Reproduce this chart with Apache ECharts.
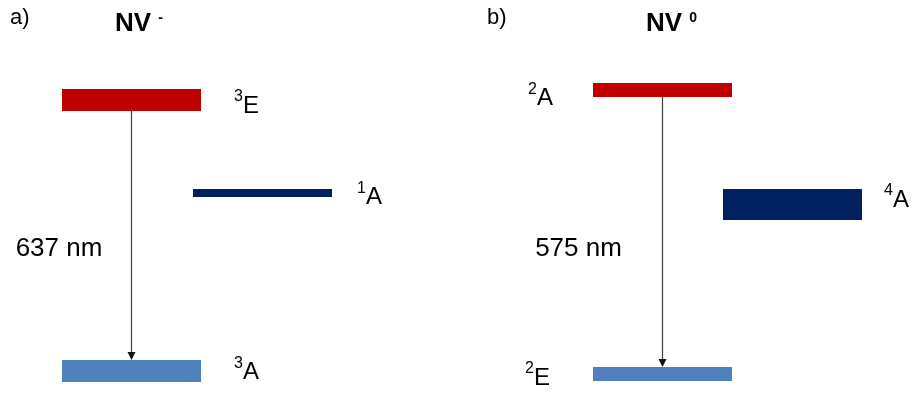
<!DOCTYPE html>
<html><head><meta charset="utf-8">
<script src="https://cdn.jsdelivr.net/npm/echarts@6/dist/echarts.min.js"></script>
<style>html,body{margin:0;padding:0;background:#fff}#c{width:914px;height:393px}</style>
</head><body><div id="c"></div>
<script>
// ---------- data (arbitrary energy units) ----------
const panelLetters = ['a)', 'b)'];
const centerNames = ['NV', 'NV'];
const chargeStates = ['-', '0'];

const multiplicityA = ['3', '1', '3'];
const symmetryA = ['E', 'A', 'A'];
const columnA = [0, 1, 0];
const energyA = [2.78, 1.85, 0.07];

const multiplicityB = ['2', '4', '2'];
const symmetryB = ['A', 'A', 'E'];
const columnB = [0, 1, 0];
const energyB = [2.88, 1.735, 0.04];

const transitionFrom = [0, 0];   // level index per panel
const transitionTo = [2, 2];
const wavelengthsNm = [637, 575];

// ---------- styles ----------
const FONT = 'Liberation Sans, Arial, sans-serif';
const BAR_W = 139;
const stylesA = {
  colors: ['#C00000', '#002060', '#4F81BD'],
  thick: [22, 8, 22],
  labelSide: ['right', 'right', 'right'],
  labelGap: [33, 25, 33],
  labelDy: [6, 4.5, 1.5]
};
const stylesB = {
  colors: ['#C00000', '#002060', '#4F81BD'],
  thick: [14, 31, 14],
  labelSide: ['left', 'right', 'left'],
  labelGap: [40, 22, 43],
  labelDy: [8.5, -4.5, 4]
};
const transStyles = [
  { dx: -72.5, dy: 13.5 },
  { dx: -84, dy: 17 }
];

const richLevel = {
  s: { fontSize: 16, fontFamily: FONT, fill: '#000', verticalAlign: 'top', lineHeight: 16 },
  b: { fontSize: 24, fontFamily: FONT, fill: '#000', lineHeight: 34 }
};

function levelRenderer(mult, sym, st) {
  return function (params, api) {
    const i = api.value(2);
    const p = api.coord([api.value(0), api.value(1)]);
    const th = st.thick[i];
    const right = st.labelSide[i] === 'right';
    const lx = right ? p[0] + BAR_W + st.labelGap[i] : p[0] - st.labelGap[i];
    return {
      type: 'group',
      children: [
        { type: 'rect', shape: { x: p[0], y: p[1] - th / 2, width: BAR_W, height: th },
          style: { fill: st.colors[i] } },
        { type: 'text', x: lx, y: p[1] + st.labelDy[i],
          style: { text: '{s|' + mult[i] + '}{b|' + sym[i] + '}', rich: richLevel,
                   align: right ? 'left' : 'right', verticalAlign: 'middle' } }
      ]
    };
  };
}

function transitionRenderer(params, api) {
  const k = api.value(3);
  const st = k === 0 ? stylesA : stylesB;
  const from = transitionFrom[k], to = transitionTo[k];
  const p1 = api.coord([api.value(0), api.value(1)]);
  const p2 = api.coord([api.value(0), api.value(2)]);
  const x = p1[0] + BAR_W / 2;
  const yTop = p1[1] + st.thick[from] / 2;
  const yBot = p2[1] - st.thick[to] / 2;
  const ah = 8, aw = 4;
  return {
    type: 'group',
    children: [
      { type: 'line', shape: { x1: x, y1: yTop, x2: x, y2: yBot - ah + 1 },
        style: { stroke: '#404040', lineWidth: 1.2 } },
      { type: 'polygon', shape: { points: [[x - aw, yBot - ah], [x + aw, yBot - ah], [x, yBot]] },
        style: { fill: '#111' } },
      { type: 'text', x: x + transStyles[k].dx, y: (p1[1] + p2[1]) / 2 + transStyles[k].dy,
        style: { text: wavelengthsNm[k] + ' nm', fontSize: 26, fontFamily: FONT, fill: '#000',
                 align: 'center', verticalAlign: 'middle' } }
    ]
  };
}

const titleRich = {
  b: { fontSize: 26, fontWeight: 'bold', fontFamily: FONT, fill: '#000', lineHeight: 26 },
  s: { fontSize: 14, fontWeight: 'bold', fontFamily: FONT, fill: '#000', verticalAlign: 'top', lineHeight: 14 }
};

const chart = echarts.init(document.getElementById('c'), null, { renderer: 'canvas' });
const option = {
  animation: false,
  backgroundColor: '#fff',
  grid: [
    { left: 62, top: 78, width: 262, height: 300 },
    { left: 593, top: 78, width: 260, height: 300 }
  ],
  xAxis: [
    { gridIndex: 0, type: 'value', min: 0, max: 2, show: false },
    { gridIndex: 1, type: 'value', min: 0, max: 2, show: false }
  ],
  yAxis: [
    { gridIndex: 0, type: 'value', min: 0, max: 3, show: false },
    { gridIndex: 1, type: 'value', min: 0, max: 3, show: false }
  ],
  graphic: [
    { type: 'text', x: 10, y: 18, style: { text: panelLetters[0], fontSize: 22, fontFamily: FONT, fill: '#000', verticalAlign: 'middle' } },
    { type: 'text', x: 487, y: 18, style: { text: panelLetters[1], fontSize: 22, fontFamily: FONT, fill: '#000', verticalAlign: 'middle' } },
    { type: 'text', x: 115, y: 24, style: { text: '{b|' + centerNames[0] + ' }{s|' + chargeStates[0] + '}', verticalAlign: 'middle', rich: titleRich } },
    { type: 'text', x: 646, y: 24, style: { text: '{b|' + centerNames[1] + ' }{s|' + chargeStates[1] + '}', verticalAlign: 'middle', rich: titleRich } }
  ],
  series: [
    { type: 'custom', xAxisIndex: 0, yAxisIndex: 0, clip: false,
      data: columnA.map((c, i) => [c, energyA[i], i]),
      renderItem: levelRenderer(multiplicityA, symmetryA, stylesA) },
    { type: 'custom', xAxisIndex: 1, yAxisIndex: 1, clip: false,
      data: columnB.map((c, i) => [c, energyB[i], i]),
      renderItem: levelRenderer(multiplicityB, symmetryB, stylesB) },
    { type: 'custom', xAxisIndex: 0, yAxisIndex: 0, clip: false,
      data: [[columnA[transitionFrom[0]], energyA[transitionFrom[0]], energyA[transitionTo[0]], 0]],
      renderItem: transitionRenderer },
    { type: 'custom', xAxisIndex: 1, yAxisIndex: 1, clip: false,
      data: [[columnB[transitionFrom[1]], energyB[transitionFrom[1]], energyB[transitionTo[1]], 1]],
      renderItem: transitionRenderer }
  ]
};
chart.setOption(option);
</script>
</body></html>
